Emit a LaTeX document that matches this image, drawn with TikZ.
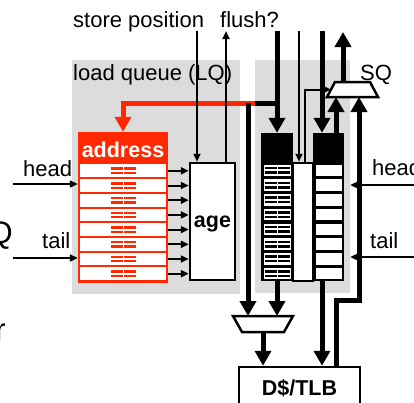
\documentclass[tikz,border=0pt]{standalone}
\usepackage{fontspec}
\setmainfont{Liberation Sans}
\usetikzlibrary{arrows.meta, positioning}
\definecolor{lqred}{RGB}{255,40,0}
\definecolor{queuegray}{RGB}{220,220,220}
\tikzset{
  lbl/.style={inner sep=0pt, font=\fontsize{22}{26}\selectfont},
  boldlbl/.style={inner sep=0pt, font=\fontsize{21.5}{26}\selectfont\bfseries},
  fatarr/.style={line width=5pt, -{Triangle[width=16pt,length=15pt]}},
  thinarr/.style={line width=2pt, -{Triangle[width=7pt,length=8pt]}},
  lqrow/.style={fill=white, inner sep=0pt, minimum width=86pt, minimum height=12.7pt},
  sqrow/.style={fill=white, inner sep=0pt, minimum height=11.6pt},
  unit/.style={draw, line width=2.5pt, fill=white, inner sep=0pt},
  muxline/.style={draw, line width=2.5pt, fill=white, line join=miter}
}
\begin{document}
\begin{tikzpicture}[x=1pt, y=-1pt]
  \useasboundingbox (0,0) rectangle (414,402);
  % queue backgrounds
  \node[fill=queuegray, inner sep=0pt, minimum width=168pt, minimum height=234pt] (lq) at (156,177) {};
  \node[fill=queuegray, inner sep=0pt, minimum width=95pt, minimum height=233pt] (sq) at (302.5,176.5) {};

  % texts
  \node[lbl, anchor=base west] (storepos) at (73,27) {store position};
  \node[lbl, anchor=base west] (flush) at (220,27) {flush?};
  \node[lbl, anchor=base west] (lqname) at (73,80) {load queue (LQ)};
  \node[lbl, anchor=base west] (sqname) at (360,80) {SQ};
  \node[lbl, anchor=base west] (lqheadtxt) at (23,176) {head};
  \node[lbl, anchor=base west] (lqtailtxt) at (42,248) {tail};
  \node[lbl, anchor=base west] (sqheadtxt) at (372,175) {head};
  \node[lbl, anchor=base west] (sqtailtxt) at (370,248) {tail};
  \node[inner sep=0pt, anchor=base east, font=\fontsize{31}{36}\selectfont] (cutq) at (13,243) {Q};
  \node[inner sep=0pt, anchor=base east, font=\fontsize{31}{36}\selectfont] (cutr) at (6,340) {r};

  % load queue
  \node[fill=lqred, inner sep=0pt, minimum width=90pt, minimum height=151pt] (lqaddr) at (123,207.5) {};
  \node[boldlbl, text=white, anchor=base] (addrtitle) at (123,157) {address};
  \node[unit, boldlbl, minimum width=45pt, minimum height=117pt, text height=11pt, text depth=0pt] (age) at (212.5,221.5) {age};
  \foreach \i in {0,...,7} {
    \node[lqrow] (lq\i) at (123,{170.8+14.7*\i}) {};
    \foreach \dx in {111,124} {
      \fill[lqred] (\dx,{167.4+14.7*\i}) rectangle +(11.5,2.4);
      \fill[lqred] (\dx,{171.8+14.7*\i}) rectangle +(11.5,2.4);
    }
    \draw[thinarr] (lq\i.east -| lqaddr.east) -- (lq\i.east -| age.west);
  }

  % store queue
  \node[fill=black, inner sep=0pt, minimum width=32pt, minimum height=148pt] (sqaddr) at (277,207) {};
  \node[fill=black, inner sep=0pt, minimum width=31pt, minimum height=148pt] (sqdata) at (328.5,207) {};
  \node[unit, minimum width=20pt, minimum height=118pt] (sqmid) at (303,222) {};
  \foreach \i in {0,...,7} {
    \node[sqrow, minimum width=27pt] (sqa\i) at (277,{170.4+14.75*\i}) {};
    \node[sqrow, minimum width=26pt] (sqd\i) at (328.5,{170.4+14.75*\i}) {};
    \foreach \dx in {264.5,278} {
      \fill (\dx,{166.9+14.75*\i}) rectangle +(12,2.5);
      \fill (\dx,{171.4+14.75*\i}) rectangle +(12,2.5);
    }
  }

  % muxes and cache
  \coordinate (sqmuxbl) at (327,97);
  \coordinate (sqmuxtl) at (335,82);
  \coordinate (sqmuxtr) at (370,82);
  \coordinate (sqmuxbr) at (378,97);
  \coordinate (sqmuxsel) at (331,89.5);
  \draw[muxline] (sqmuxbl) -- (sqmuxtl) -- (sqmuxtr) -- (sqmuxbr) -- cycle;
  \coordinate (ldmuxtl) at (233,316);
  \coordinate (ldmuxtr) at (293,316);
  \coordinate (ldmuxbr) at (284,332);
  \coordinate (ldmuxbl) at (242,332);
  \coordinate (ldmuxout) at (263,332);
  \draw[muxline] (ldmuxtl) -- (ldmuxtr) -- (ldmuxbr) -- (ldmuxbl) -- cycle;
  \node[unit, boldlbl, minimum width=121pt, minimum height=42pt] (dtlb) at (299.5,388) {D\$/TLB};

  % wide paths
  \coordinate (stin) at (277,31);
  \coordinate (fork) at (277,103);
  \coordinate (redstart) at (255,103);
  \coordinate (ldin) at (248,103);
  \coordinate (datain) at (322,31);
  \coordinate (muxin) at (336,133);
  \coordinate (stout) at (343,32);
  \coordinate (fwd) at (336,300);
  \coordinate (fwdturn) at (359,300);
  \draw[fatarr] (stin) -- (sqaddr.north);
  \draw[line width=5pt] (fork) -- (redstart);
  \draw[fatarr, lqred] (redstart) -| (lqaddr.north);
  \draw[fatarr] (ldin) -- (ldin |- ldmuxtl);
  \draw[fatarr] (sqaddr.south) -- (sqaddr.south |- ldmuxtl);
  \draw[fatarr] (ldmuxout) -- (ldmuxout |- dtlb.north);
  \draw[fatarr] (datain) -- (datain |- sqdata.north);
  \draw[fatarr] (datain |- sqdata.south) -- (datain |- dtlb.north);
  \draw[fatarr] (muxin) -- (muxin |- sqmuxbl);
  \draw[fatarr] (stout |- sqmuxtl) -- (stout);
  \draw[fatarr] (fwd |- dtlb.north) -- (fwd) -- (fwdturn) -- (fwdturn |- sqmuxbr);

  % thin paths
  \coordinate (lqpos) at (197,31);
  \coordinate (flushout) at (226,31);
  \coordinate (sqpos) at (299,31);
  \coordinate (sel) at (305,89);
  \coordinate (lqhead) at (13,184);
  \coordinate (lqtail) at (13,258);
  \coordinate (sqhead) at (414,185);
  \coordinate (sqtail) at (414,257);
  \draw[thinarr] (lqpos) -- (lqpos |- age.north);
  \draw[thinarr] (flushout |- age.north) -- (flushout);
  \draw[thinarr] (sqpos) -- (sqpos |- sqmid.north);
  \draw[thinarr] (sel |- sqmid.north) |- (sqmuxsel);
  \draw[thinarr] (lqhead) -- (lqhead -| lqaddr.west);
  \draw[thinarr] (lqtail) -- (lqtail -| lqaddr.west);
  \draw[thinarr] (sqhead) -- (sqhead -| sq.east);
  \draw[thinarr] (sqtail) -- (sqtail -| sq.east);
\end{tikzpicture}
\end{document}
